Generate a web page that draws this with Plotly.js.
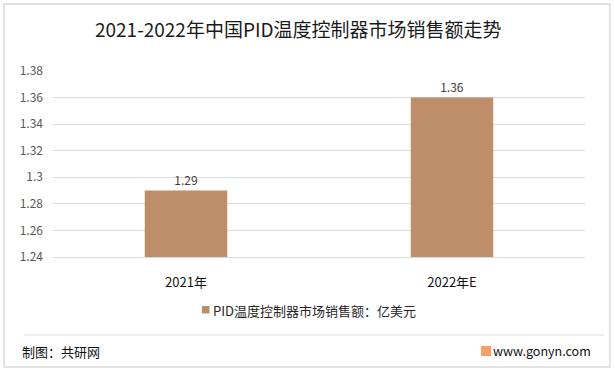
<!DOCTYPE html>
<html><head><meta charset="utf-8">
<script src="https://cdn.plot.ly/plotly-3.0.1.min.js"></script>
<style>html,body{margin:0;padding:0;background:#fff}</style>
</head><body><div id="chart" style="width:615px;height:372px"></div>
<script>
var categories = ["2021年", "2022年E"];
var sales = [1.29, 1.36];
var seriesName = "PID温度控制器市场销售额：亿美元";
var yTickVals = [1.24, 1.26, 1.28, 1.30, 1.32, 1.34, 1.36, 1.38];
var yTickText = ["1.24", "1.26", "1.28", "1.3", "1.32", "1.34", "1.36", "1.38"];

var L = 53, R = 585, T = 71, B = 257;
function px(x) { return (x - L) / (R - L); }
function py(y) { return (B - y) / (B - T); }
var font = "'Noto Sans CJK SC', 'Noto Sans', sans-serif";
var barColor = "#BE8E6B";

var trace = {
  type: "bar", x: categories, y: sales, name: seriesName,
  width: 0.31,
  marker: {color: barColor},
  text: sales.map(function(v){return v.toFixed(2);}),
  textposition: "outside",
  textfont: {size: 12, color: "#404040", family: font},
  cliponaxis: false,
  showlegend: false
};

var layout = {
  width: 615, height: 372,
  margin: {l: L, r: 615 - R, t: T, b: 372 - B, pad: 0},
  paper_bgcolor: "#fff", plot_bgcolor: "#fff",
  font: {family: font, color: "#404040"},
  title: {text: "2021-2022年中国PID温度控制器市场销售额走势", x: 0.485, xanchor: "center", y: 0.918, yanchor: "middle",
          font: {size: 19, color: "#1a1a1a", family: font}},
  bargap: 0.69,
  xaxis: {type: "category", showgrid: false, zeroline: false, showline: true, linecolor: "#D9D9D9", linewidth: 1,
          ticks: "", ticklabelstandoff: 13, tickfont: {size: 13, color: "#111", family: font}, fixedrange: true},
  yaxis: {range: [1.24, 1.38], tickvals: yTickVals, ticktext: yTickText, showgrid: true, gridcolor: "#D9D9D9",
          zeroline: false, showline: false, ticks: "", ticklabelstandoff: 9,
          tickfont: {size: 12, color: "#595959", family: font}, fixedrange: true},
  showlegend: false,
  shapes: [
    {type: "rect", xref: "paper", yref: "paper", x0: px(4), x1: px(610), y0: py(367), y1: py(4),
     line: {color: "#D9D9D9", width: 1.5}, fillcolor: "rgba(0,0,0,0)", layer: "below"},
    {type: "line", xref: "paper", yref: "paper", x0: px(24), x1: px(604), y0: py(335), y1: py(335),
     line: {color: "#D9D9D9", width: 1}},
    {type: "rect", xref: "paper", yref: "paper", x0: px(202), x1: px(209.5), y0: py(313.5), y1: py(306),
     line: {width: 0}, fillcolor: barColor},
    {type: "rect", xref: "paper", yref: "paper", x0: px(481), x1: px(491), y0: py(356), y1: py(346),
     line: {width: 0}, fillcolor: "#F4A06A"}
  ],
  annotations: [
    {text: seriesName, xref: "paper", yref: "paper", x: px(211), y: py(310.5), xanchor: "left", yanchor: "middle",
     showarrow: false, font: {size: 13, color: "#262626", family: font}},
    {text: "制图：共研网", xref: "paper", yref: "paper", x: px(20), y: py(351), xanchor: "left", yanchor: "middle",
     showarrow: false, font: {size: 13, color: "#111", family: font}},
    {text: "www.gonyn.com", xref: "paper", yref: "paper", x: px(593), y: py(350), xanchor: "right", yanchor: "middle",
     showarrow: false, font: {size: 12.5, color: "#111", family: font}}
  ]
};

Plotly.newPlot("chart", [trace], layout, {displayModeBar: false, staticPlot: true});
</script></body></html>
